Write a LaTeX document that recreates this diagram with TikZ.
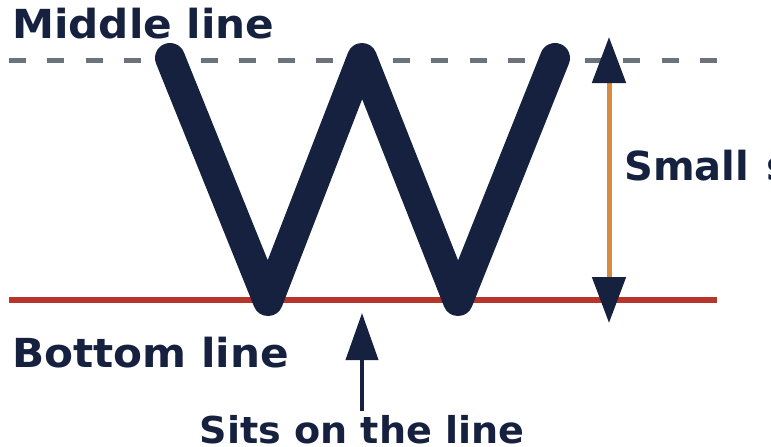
\documentclass[tikz,border=0pt]{standalone}
\usepackage{fontspec}
\setmainfont{DejaVu Sans}
\usetikzlibrary{arrows.meta}
\definecolor{navy}{HTML}{15213F}
\definecolor{midgray}{HTML}{6B737D}
\definecolor{basered}{HTML}{B8352B}
\definecolor{sizeorange}{HTML}{D68B40}

\begin{document}
\begin{tikzpicture}[x=1pt,y=-1pt,
	textlabel/.style={text=navy, font=\fontsize{40}{48}\selectfont\bfseries, inner sep=0pt},
	navytip/.tip={Triangle[length=46pt,width=33pt,color=navy]}]
	% Parameters
	\def\midy{60}
	\def\basey{300}
	\def\linestart{9}
	\def\lineend{717}
	\def\topy{58}
	\def\boty{301}

	\useasboundingbox (0,0) rectangle (771,447);

	%guide lines
	\draw[midgray, line width=5pt, dash pattern=on 17pt off 21.4pt] (\linestart,\midy) -- (\lineend,\midy);
	\draw[basered, line width=6pt] (\linestart,\basey) -- (\lineend,\basey);

	%letter
	\draw[navy, line width=30pt, line cap=round, line join=round]
	(170,\topy) -- (268,\boty) -- (362,\topy) -- (458,\boty) -- (555,\topy);

	%size arrow
	\coordinate (sizetop) at (609,37);
	\coordinate (sizebot) at (609,323);
	\draw[sizeorange, line width=5pt, {navytip}-{navytip}] (sizetop) -- (sizebot);

	%labels
	\node[textlabel, anchor=base west, xscale=1.055] (middle) at (12,38) {Middle line};
	\node[textlabel, anchor=base west, xscale=1.055] (bottom) at (12,367) {Bottom line};
	\node[textlabel, anchor=base west] (small) at (624,180) {Small\hspace{3pt} s};
	\node[textlabel, anchor=base, font=\fontsize{37}{44}\selectfont\bfseries, xscale=1.03] (sits) at (362,443) {Sits on the line};

	%pointer
	\coordinate (touch) at (362,313);
	\draw[navy, line width=4pt, -{Triangle[length=47pt,width=32pt]}] (sits.north) ++(0,-4) -- (touch);
\end{tikzpicture}
\end{document}
